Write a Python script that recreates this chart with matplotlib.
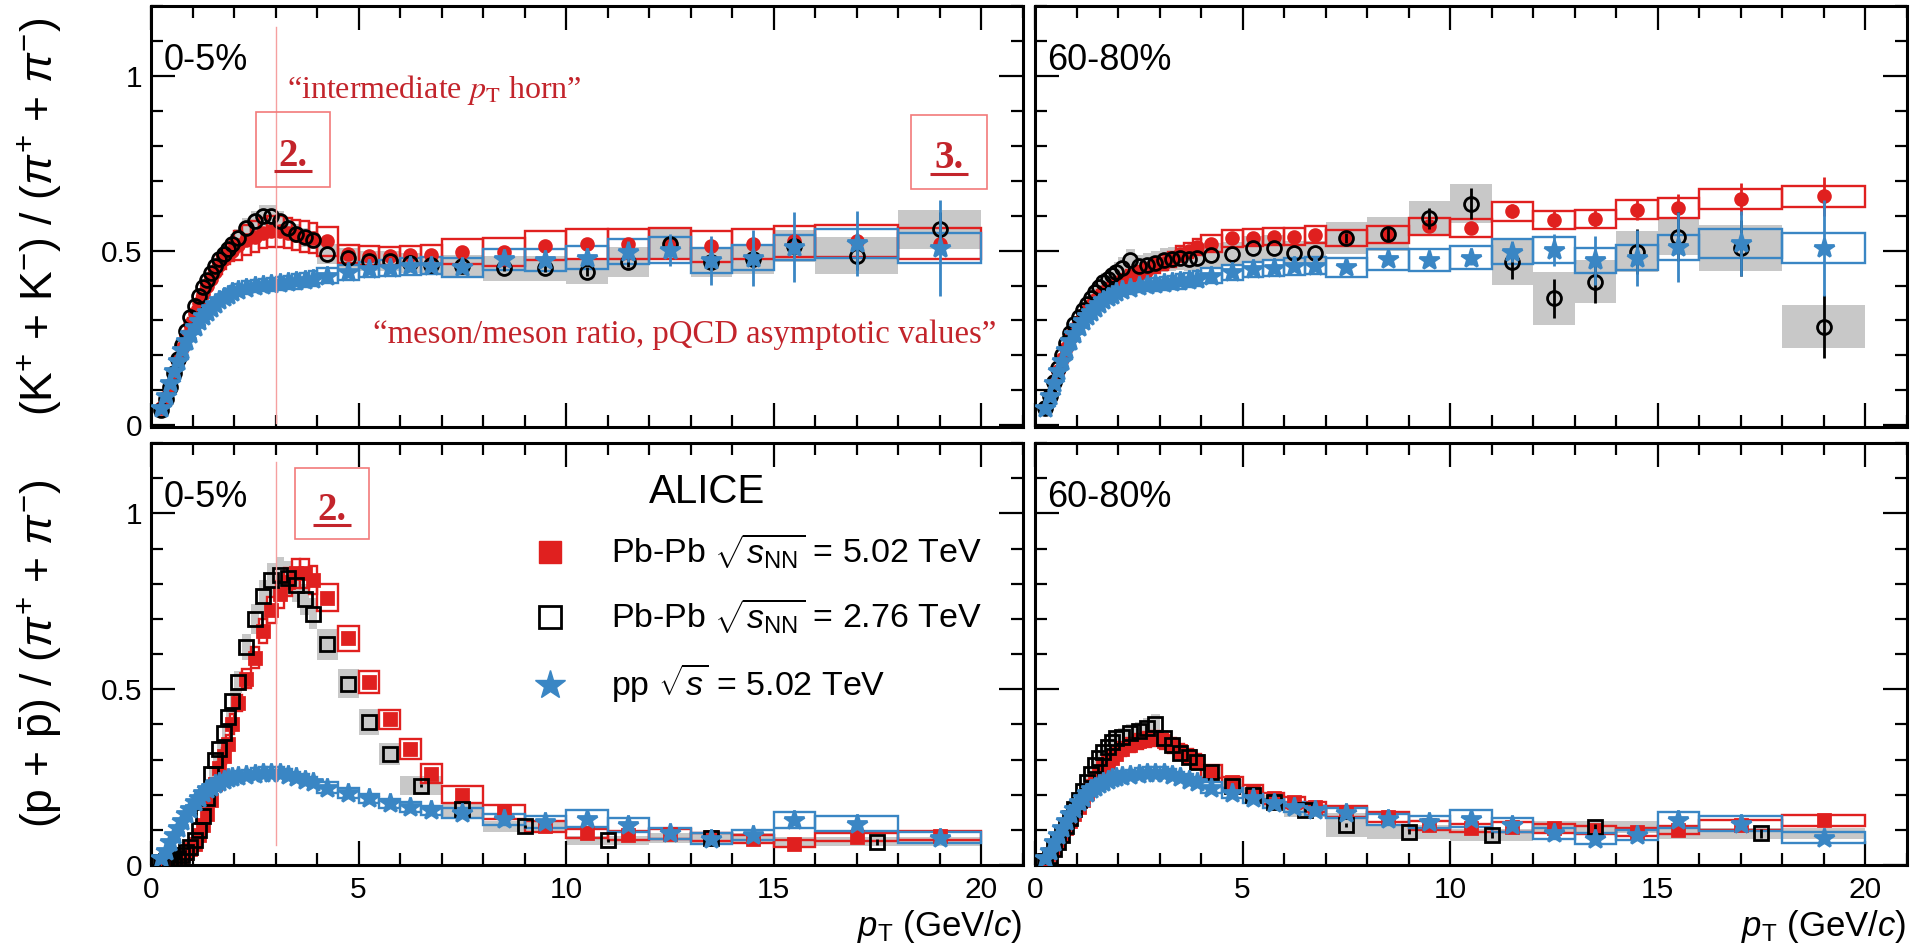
import matplotlib
matplotlib.use("Agg")
import matplotlib.pyplot as plt
from matplotlib.lines import Line2D
from matplotlib.patches import Rectangle
from matplotlib.ticker import MultipleLocator, FormatStrFormatter
import numpy as np

plt.rcParams["font.family"] = ["Liberation Sans", "DejaVu Sans"]
plt.rcParams["mathtext.fontset"] = "custom"
plt.rcParams["mathtext.rm"] = "Liberation Sans"
plt.rcParams["mathtext.it"] = "Liberation Sans:italic"
plt.rcParams["mathtext.bf"] = "Liberation Sans:bold"

RED = "#e0201f"
BLUE = "#3a86c4"
GREY = "#c8c8c8"
NOTE = "#c3242b"
NOTE_BOX = "#f27a7a"

# pT binning of the 5.02 TeV spectra (Pb-Pb and pp)
pt_edges = [0.2, 0.3, 0.4, 0.5, 0.6, 0.7, 0.8, 0.9, 1.0, 1.1, 1.2, 1.3, 1.4, 1.5,
            1.6, 1.7, 1.8, 1.9, 2.0, 2.2, 2.4, 2.6, 2.8, 3.0, 3.2, 3.4, 3.6, 3.8,
            4.0, 4.5, 5.0, 5.5, 6.0, 6.5, 7.0, 8.0, 9.0, 10.0, 11.0, 12.0, 13.0,
            14.0, 15.0, 16.0, 18.0, 20.0]
# 2.76 TeV p/pi binning
pt_edges_276p = [0.2, 0.3, 0.4, 0.5, 0.6, 0.7, 0.8, 0.9, 1.0, 1.1, 1.2, 1.3, 1.4,
                 1.5, 1.6, 1.7, 1.8, 1.9, 2.0, 2.2, 2.4, 2.6, 2.8, 3.0, 3.2, 3.4,
                 3.6, 3.8, 4.0, 4.5, 5.0, 5.5, 6.0, 7.0, 8.0, 10.0, 12.0, 15.0, 20.0]

# ---- (K+ + K-)/(pi+ + pi-) ----
k_pp = [0.050, 0.085, 0.120, 0.155, 0.185, 0.215, 0.240, 0.262,
        0.280, 0.297, 0.312, 0.325, 0.337, 0.348, 0.358, 0.366, 0.374, 0.381,
        0.388, 0.394, 0.398, 0.401, 0.403, 0.406, 0.409, 0.412, 0.416, 0.420,
        0.428, 0.438, 0.446, 0.450, 0.455, 0.457,
        0.452, 0.475, 0.473, 0.480, 0.497, 0.501, 0.472, 0.479, 0.510,
        0.521, 0.507]
k_pp_stat = [0.006, 0.010, 0.015, 0.020, 0.030, 0.045, 0.070, 0.080, 0.100, 0.093, 0.137]
k_pp_sys = [0.05, 0.05, 0.05, 0.05, 0.045, 0.045, 0.045, 0.045,
            0.045, 0.045, 0.045, 0.045, 0.045, 0.045, 0.045, 0.045, 0.045, 0.045,
            0.045, 0.045, 0.045, 0.045, 0.045, 0.045, 0.045, 0.05, 0.05, 0.05,
            0.05, 0.05, 0.05, 0.05, 0.055, 0.055,
            0.06, 0.065, 0.065, 0.07, 0.07, 0.075, 0.075, 0.075, 0.07,
            0.08, 0.085]

k_502_c05 = [0.050, 0.080, 0.115, 0.150, 0.185, 0.220, 0.255, 0.290,
             0.320, 0.350, 0.375, 0.400, 0.420, 0.440, 0.460, 0.475, 0.490, 0.500,
             0.515, 0.530, 0.540, 0.550, 0.555, 0.555, 0.550, 0.545, 0.540, 0.535,
             0.526, 0.490, 0.485, 0.484, 0.486, 0.488,
             0.497, 0.497, 0.514, 0.519, 0.519, 0.520, 0.512, 0.519, 0.526,
             0.527, 0.520]
k_502_c05_stat = [0.004, 0.005, 0.006, 0.008, 0.010, 0.012, 0.015, 0.018, 0.020, 0.020, 0.030]
k_502_c05_sys = [0.06, 0.06, 0.06, 0.06, 0.06, 0.06, 0.06, 0.06,
                 0.06, 0.06, 0.06, 0.06, 0.06, 0.06, 0.06, 0.06, 0.06, 0.06,
                 0.08, 0.08, 0.08, 0.08, 0.08, 0.08, 0.08, 0.08, 0.08, 0.08,
                 0.08, 0.055, 0.055, 0.055, 0.055, 0.055,
                 0.07, 0.08, 0.08, 0.085, 0.085, 0.085, 0.085, 0.085, 0.085,
                 0.085, 0.085]

k_276_c05 = [0.045, 0.075, 0.110, 0.150, 0.190, 0.230, 0.270, 0.310,
             0.340, 0.370, 0.395, 0.415, 0.435, 0.455, 0.475, 0.490, 0.505, 0.520,
             0.535, 0.565, 0.585, 0.600, 0.600, 0.585, 0.565, 0.548, 0.538, 0.530,
             0.490, 0.478, 0.470, 0.470, 0.465, 0.458,
             0.455, 0.449, 0.449, 0.440, 0.467, 0.520, 0.466, 0.475, 0.512,
             0.485, 0.561]
k_276_c05_stat = [0.005, 0.008, 0.010, 0.012, 0.015, 0.020, 0.020, 0.025, 0.030, 0.040, 0.050]
k_276_c05_sys = [0.05, 0.05, 0.05, 0.05, 0.05, 0.05, 0.05, 0.05,
                 0.05, 0.05, 0.05, 0.05, 0.05, 0.05, 0.05, 0.05, 0.05, 0.05,
                 0.05, 0.05, 0.05, 0.05, 0.05, 0.05, 0.05, 0.05, 0.05, 0.05,
                 0.06, 0.06, 0.06, 0.06, 0.06, 0.06,
                 0.07, 0.08, 0.08, 0.08, 0.09, 0.09, 0.09, 0.09, 0.09,
                 0.11, 0.10]

k_502_c6080 = [0.050, 0.085, 0.120, 0.155, 0.190, 0.220, 0.250, 0.275,
               0.295, 0.315, 0.330, 0.345, 0.358, 0.370, 0.380, 0.390, 0.398, 0.405,
               0.415, 0.425, 0.435, 0.445, 0.455, 0.465, 0.475, 0.490, 0.500, 0.510,
               0.520, 0.535, 0.537, 0.540, 0.540, 0.545,
               0.536, 0.545, 0.569, 0.564, 0.612, 0.588, 0.590, 0.617, 0.622,
               0.648, 0.655]
k_502_c6080_stat = [0.010, 0.012, 0.015, 0.018, 0.020, 0.025, 0.025, 0.030, 0.040, 0.045, 0.055]
k_502_c6080_sys = [0.05, 0.05, 0.05, 0.05, 0.05, 0.05, 0.05, 0.05,
                   0.045, 0.045, 0.045, 0.045, 0.045, 0.045, 0.045, 0.045, 0.045, 0.045,
                   0.045, 0.045, 0.045, 0.045, 0.045, 0.045, 0.045, 0.045, 0.045, 0.045,
                   0.045, 0.045, 0.045, 0.045, 0.045, 0.045,
                   0.045, 0.045, 0.045, 0.045, 0.045, 0.045, 0.045, 0.045, 0.045,
                   0.045, 0.045]

k_276_c6080 = [0.050, 0.085, 0.125, 0.165, 0.200, 0.235, 0.265, 0.290,
               0.310, 0.330, 0.348, 0.365, 0.380, 0.395, 0.410, 0.420, 0.430, 0.440,
               0.450, 0.472, 0.455, 0.460, 0.465, 0.473, 0.476, 0.478, 0.475, 0.478,
               0.488, 0.490, 0.507, 0.508, 0.492, 0.493,
               0.536, 0.547, 0.593, 0.634, 0.468, 0.363, 0.411, 0.497, 0.540,
               0.507, 0.282]
k_276_c6080_stat = [0.015, 0.020, 0.030, 0.045, 0.050, 0.057, 0.060, 0.065, 0.070, 0.080, 0.090]
k_276_c6080_sys = [0.06, 0.06, 0.06, 0.06, 0.06, 0.06, 0.06, 0.06,
                   0.06, 0.06, 0.06, 0.06, 0.06, 0.06, 0.06, 0.06, 0.06, 0.06,
                   0.07, 0.07, 0.07, 0.07, 0.07, 0.07, 0.07, 0.07, 0.07, 0.07,
                   0.07, 0.07, 0.07, 0.07, 0.07, 0.07,
                   0.085, 0.09, 0.08, 0.087, 0.14, 0.21, 0.15, 0.12, 0.10,
                   0.13, 0.22]

# ---- (p + pbar)/(pi+ + pi-) ----
p_pp = [0.020, 0.040, 0.065, 0.085, 0.105, 0.125, 0.145, 0.160,
        0.178, 0.190, 0.205, 0.215, 0.223, 0.230, 0.237, 0.242, 0.246, 0.250,
        0.253, 0.256, 0.259, 0.262, 0.263, 0.262, 0.257, 0.250, 0.243, 0.236,
        0.220, 0.205, 0.190, 0.175, 0.165, 0.155,
        0.148, 0.130, 0.122, 0.132, 0.113, 0.090, 0.075, 0.085, 0.128,
        0.118, 0.078]
p_pp_stat = [0.003, 0.004, 0.005, 0.006, 0.007, 0.008, 0.009, 0.010, 0.015, 0.015, 0.015]
p_pp_sys = [0.07, 0.07, 0.07, 0.07, 0.07, 0.07, 0.07, 0.07,
            0.06, 0.06, 0.06, 0.06, 0.06, 0.06, 0.06, 0.06, 0.06, 0.06,
            0.06, 0.06, 0.06, 0.06, 0.06, 0.06, 0.06, 0.06, 0.06, 0.06,
            0.07, 0.07, 0.07, 0.08, 0.08, 0.09,
            0.10, 0.12, 0.14, 0.18, 0.18, 0.18, 0.20, 0.18, 0.17,
            0.17, 0.20]

p_502_c05 = [0.010, 0.012, 0.015, 0.018, 0.022, 0.027, 0.034, 0.045,
             0.060, 0.085, 0.115, 0.145, 0.185, 0.230, 0.275, 0.310, 0.345, 0.400,
             0.460, 0.530, 0.590, 0.665, 0.725, 0.770, 0.805, 0.830, 0.830, 0.810,
             0.760, 0.645, 0.520, 0.415, 0.330, 0.260,
             0.200, 0.150, 0.110, 0.090, 0.085, 0.088, 0.080, 0.075, 0.061,
             0.080, 0.083]
p_502_c05_stat = [0.004, 0.004, 0.005, 0.005, 0.006, 0.006, 0.007, 0.007, 0.008, 0.008, 0.009]
p_502_c05_sys = [0.08, 0.08, 0.08, 0.08, 0.08, 0.08, 0.08, 0.08,
                 0.07, 0.07, 0.07, 0.07, 0.07, 0.07, 0.07, 0.07, 0.07, 0.07,
                 0.05, 0.05, 0.05, 0.05, 0.05, 0.05, 0.05, 0.05, 0.05, 0.05,
                 0.05, 0.055, 0.06, 0.065, 0.09, 0.10,
                 0.12, 0.13, 0.14, 0.15, 0.15, 0.15, 0.15, 0.15, 0.15,
                 0.15, 0.15]

p_276_c05 = [0.008, 0.010, 0.012, 0.015, 0.020, 0.028, 0.038, 0.050,
             0.070, 0.100, 0.140, 0.190, 0.260, 0.300, 0.330, 0.375, 0.420, 0.465,
             0.520, 0.620, 0.700, 0.765, 0.810, 0.825, 0.815, 0.795, 0.755, 0.715,
             0.628, 0.515, 0.406, 0.315,
             0.225, 0.158, 0.110, 0.070, 0.076, 0.066]
p_276_c05_stat = [0.004, 0.004, 0.004, 0.005, 0.006, 0.008]
p_276_c05_sys = [0.08, 0.08, 0.08, 0.08, 0.08, 0.08, 0.08, 0.08,
                 0.07, 0.07, 0.07, 0.07, 0.07, 0.07, 0.07, 0.07, 0.07, 0.07,
                 0.06, 0.06, 0.06, 0.06, 0.06, 0.06, 0.06, 0.06, 0.06, 0.06,
                 0.07, 0.08, 0.09, 0.10,
                 0.12, 0.13, 0.15, 0.18, 0.18, 0.20]

p_502_c6080 = [0.015, 0.030, 0.045, 0.065, 0.085, 0.105, 0.125, 0.145,
               0.165, 0.185, 0.205, 0.225, 0.245, 0.262, 0.278, 0.292, 0.305, 0.316,
               0.330, 0.342, 0.352, 0.358, 0.360, 0.352, 0.340, 0.325, 0.310, 0.297,
               0.267, 0.235, 0.210, 0.190, 0.178, 0.165,
               0.152, 0.137, 0.113, 0.104, 0.108, 0.104, 0.100, 0.095, 0.099,
               0.113, 0.127]
p_502_c6080_stat = [0.004, 0.005, 0.005, 0.006, 0.006, 0.007, 0.007, 0.008, 0.008, 0.009, 0.010]
p_502_c6080_sys = [0.07, 0.07, 0.07, 0.07, 0.07, 0.07, 0.07, 0.07,
                   0.06, 0.06, 0.06, 0.06, 0.06, 0.06, 0.06, 0.06, 0.06, 0.06,
                   0.06, 0.06, 0.06, 0.06, 0.06, 0.06, 0.06, 0.06, 0.06, 0.06,
                   0.07, 0.07, 0.08, 0.08, 0.09, 0.09,
                   0.10, 0.10, 0.11, 0.11, 0.12, 0.12, 0.12, 0.12, 0.12,
                   0.12, 0.12]

p_276_c6080 = [0.010, 0.025, 0.045, 0.065, 0.085, 0.110, 0.135, 0.160,
               0.185, 0.210, 0.235, 0.260, 0.285, 0.305, 0.320, 0.335, 0.350, 0.360,
               0.365, 0.375, 0.380, 0.390, 0.400, 0.360, 0.340, 0.318, 0.308, 0.294,
               0.265, 0.225, 0.200, 0.180,
               0.156, 0.113, 0.094, 0.085, 0.108, 0.090]
p_276_c6080_stat = [0.006, 0.006, 0.007, 0.008, 0.010, 0.012]
p_276_c6080_sys = [0.08, 0.08, 0.08, 0.08, 0.08, 0.08, 0.08, 0.08,
                   0.07, 0.07, 0.07, 0.07, 0.07, 0.07, 0.07, 0.07, 0.07, 0.07,
                   0.07, 0.07, 0.07, 0.07, 0.07, 0.07, 0.07, 0.07, 0.07, 0.07,
                   0.08, 0.09, 0.10, 0.10,
                   0.12, 0.30, 0.20, 0.20, 0.15, 0.17]

centralities = ["0-5%", "60-80%"]
legend_labels = [r"Pb-Pb $\sqrt{s_{\rm NN}}$ = 5.02 TeV",
                 r"Pb-Pb $\sqrt{s_{\rm NN}}$ = 2.76 TeV",
                 r"pp $\sqrt{s}$ = 5.02 TeV"]


def centres(edges):
    e = np.asarray(edges)
    return 0.5 * (e[1:] + e[:-1]), e[1:] - e[:-1]


def draw_series(ax, edges, val, stat, sys_rel, color, marker, filled, zorder, ms):
    x, w = centres(edges)
    y = np.asarray(val)
    s = y * np.asarray(sys_rel)
    if filled == "grey":
        ax.bar(x, 2 * s, bottom=y - s, width=w, color=GREY, edgecolor="none", zorder=1)
    else:
        ax.bar(x, 2 * s, bottom=y - s, width=w, fill=False, edgecolor=color,
               linewidth=1.7, zorder=2)
    n = len(stat)
    ax.errorbar(x[-n:], y[-n:], yerr=stat, fmt="none", ecolor=color,
                elinewidth=2.0, capsize=0, zorder=zorder)
    mfc = color if filled is True else "none"
    ax.plot(x, y, ls="none", marker=marker, ms=ms, mfc=mfc, mec=color,
            mew=2.0, zorder=zorder)


fig = plt.figure(figsize=(19.26, 9.52), dpi=100)
W, H = 1926.0, 952.0
lefts = [151 / W, 1035 / W]
pw = 871.5 / W
boxes_y = [(6, 427), (443, 865)]

axes = {}
for r, (ytop, ybot) in enumerate(boxes_y):
    for c in range(2):
        ax = fig.add_axes([lefts[c], 1 - ybot / H, pw, (ybot - ytop) / H])
        axes[r, c] = ax
        ax.set_xlim(0, 21)
        ax.set_ylim(-0.005 if r == 0 else 0.0, 1.2)
        ax.xaxis.set_major_locator(MultipleLocator(5))
        ax.xaxis.set_minor_locator(MultipleLocator(1))
        ax.yaxis.set_major_locator(MultipleLocator(0.5))
        ax.yaxis.set_minor_locator(MultipleLocator(0.1))
        ax.yaxis.set_major_formatter(FormatStrFormatter("%g"))
        ax.tick_params(which="both", direction="in", top=True, right=True,
                       width=1.6, labelsize=21.5, pad=6)
        ax.tick_params(which="major", length=17)
        ax.tick_params(which="minor", length=8.5)
        ax.tick_params(axis="x", pad=8)
        ax.tick_params(labelbottom=(r == 1), labelleft=(c == 0))
        for sp in ax.spines.values():
            sp.set_linewidth(2.2)
        ax.text(0.014, 0.848, centralities[c], transform=ax.transAxes,
                fontsize=26, ha="left", va="baseline")

k_sets = [(k_502_c05, k_502_c05_stat, k_502_c05_sys, k_276_c05, k_276_c05_stat, k_276_c05_sys),
          (k_502_c6080, k_502_c6080_stat, k_502_c6080_sys, k_276_c6080, k_276_c6080_stat, k_276_c6080_sys)]
p_sets = [(p_502_c05, p_502_c05_stat, p_502_c05_sys, p_276_c05, p_276_c05_stat, p_276_c05_sys),
          (p_502_c6080, p_502_c6080_stat, p_502_c6080_sys, p_276_c6080, p_276_c6080_stat, p_276_c6080_sys)]

for c in range(2):
    ax = axes[0, c]
    v5, st5, sy5, v2, st2, sy2 = k_sets[c]
    draw_series(ax, pt_edges, v2, st2, sy2, "black", "o", "grey", 4, 10)
    draw_series(ax, pt_edges, v5, st5, sy5, RED, "o", True, 3, 8.5)
    draw_series(ax, pt_edges, k_pp, k_pp_stat, k_pp_sys, BLUE, "*", True, 5, 15)

    ax = axes[1, c]
    v5, st5, sy5, v2, st2, sy2 = p_sets[c]
    draw_series(ax, pt_edges_276p, v2, st2, sy2, "black", "s", "grey", 4, 9.5)
    draw_series(ax, pt_edges, v5, st5, sy5, RED, "s", True, 3, 8.5)
    draw_series(ax, pt_edges, p_pp, p_pp_stat, p_pp_sys, BLUE, "*", True, 5, 15)

# axis titles
for c in range(2):
    axes[1, c].text(1.0, -0.168, r"$p_{\rm T}$ (GeV/$c$)", transform=axes[1, c].transAxes,
                    fontsize=25, ha="right", va="baseline")
axes[0, 0].text(-0.1285, 0.5, r"(K$^{+}$ + K$^{-}$) / ($\pi^{+}$ + $\pi^{-}$)",
                transform=axes[0, 0].transAxes, rotation=90, fontsize=32,
                ha="center", va="center")
axes[1, 0].text(-0.1285, 0.5, r"(p + $\bar{\rm p}$) / ($\pi^{+}$ + $\pi^{-}$)",
                transform=axes[1, 0].transAxes, rotation=90, fontsize=32,
                ha="center", va="center")

# legend
ax = axes[1, 0]
ax.text(0.638, 0.884, "ALICE", transform=ax.transAxes, fontsize=29,
        ha="center", va="center")
handles = [Line2D([], [], ls="none", marker="s", ms=16, mfc=RED, mec=RED),
           Line2D([], [], ls="none", marker="s", ms=16, mfc="none", mec="black", mew=2.0),
           Line2D([], [], ls="none", marker="*", ms=22, mfc=BLUE, mec=BLUE)]
ax.legend(handles, legend_labels, loc="upper left", bbox_to_anchor=(0.4378, 0.789),
          frameon=False, fontsize=24.5, handlelength=1.0, handletextpad=1.3,
          labelspacing=0.74, borderpad=0, borderaxespad=0)

# annotations
for ax, lo, hi in [(axes[0, 0], 0.0095, 0.950), (axes[1, 0], 0.047, 0.955)]:
    ax.axvline(3.0, ymin=lo, ymax=hi, color="#f5a0a0", lw=1.0, zorder=6)


def step_box(ax, label, x0, x1, y0, y1):
    ax.add_patch(Rectangle((x0, y0), x1 - x0, y1 - y0, fill=False,
                           edgecolor=NOTE_BOX, lw=1.2, zorder=7))
    xc, yc = 0.5 * (x0 + x1), 0.5 * (y0 + y1)
    ax.text(xc, yc - 0.047, label, color=NOTE, fontsize=28, fontweight="bold",
            family="Liberation Serif", ha="center", va="baseline", zorder=8)
    ax.plot([xc - 0.45, xc + 0.47], [yc - 0.062, yc - 0.062], color=NOTE,
            lw=2.2, solid_capstyle="butt", zorder=8)


step_box(axes[0, 0], "2.", 2.53, 4.31, 0.683, 0.896)
step_box(axes[0, 0], "3.", 18.31, 20.14, 0.677, 0.887)
step_box(axes[1, 0], "2.", 3.47, 5.25, 0.926, 1.13)

axes[0, 0].text(3.28, 0.936, "\u201cintermediate $p_{\\rm T}$ horn\u201d", color=NOTE,
                fontsize=23, family="Liberation Serif", math_fontfamily="stix",
                ha="left", va="baseline", zorder=8)
axes[0, 0].text(5.35, 0.235, "\u201cmeson/meson ratio, pQCD asymptotic values\u201d",
                color=NOTE, fontsize=23.6, family="Liberation Serif",
                ha="left", va="baseline", zorder=8)

fig.savefig("out.png", dpi=100)
